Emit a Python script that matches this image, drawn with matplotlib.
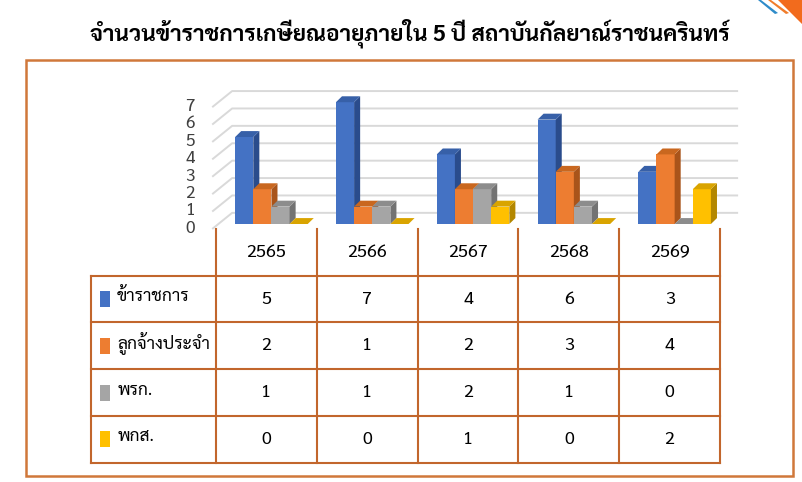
import matplotlib
matplotlib.use("Agg")
import matplotlib.pyplot as plt
from matplotlib.patches import Polygon, Rectangle

# ----------------------------
# Data
# ----------------------------
title = "จำนวนข้าราชการเกษียณอายุภายใน 5 ปี สถาบันกัลยาณ์ราชนครินทร์"
years = ["2565", "2566", "2567", "2568", "2569"]
series_names = ["ข้าราชการ", "ลูกจ้างประจำ", "พรก.", "พกส."]
civil_servants = [5, 7, 4, 6, 3]
permanent_staff = [2, 1, 2, 3, 4]
gov_employees = [1, 1, 2, 1, 0]
univ_employees = [0, 0, 1, 0, 2]
y_ticks = [0, 1, 2, 3, 4, 5, 6, 7]

series_values = [civil_servants, permanent_staff, gov_employees, univ_employees]
front_colors = ["#4472C4", "#ED7D31", "#A5A5A5", "#FFC000"]
top_colors = ["#3760A8", "#C9671F", "#8C8C8C", "#D9A400"]
side_colors = ["#2A4C8C", "#A9541A", "#737373", "#B38700"]
line_color = "#C2662C"

plt.rcParams["font.family"] = ["Sarabun", "DejaVu Sans"]

W, H = 802, 482
fig = plt.figure(figsize=(W / 100, H / 100), dpi=100)


def fig_box(left, top, right, bottom):
    return [left / W, 1 - bottom / H, (right - left) / W, (bottom - top) / H]


# ----------------------------
# Title, frame, corner
# ----------------------------
fig.text(410 / W, 1 - 33 / H, title, ha="center", va="center",
         fontsize=16.3, fontweight="bold")

fig.add_artist(Rectangle((26 / W, 1 - 476 / H), (793 - 26) / W, (476 - 59.5) / H,
                         transform=fig.transFigure, fill=False,
                         ec="#D0783A", lw=1.8))

corner_blue = [(758, 0), (761, 0), (778, 13), (775, 14)]
corner_line = [(768, 0), (771, 0), (789, 13), (786, 14)]
corner_fill = [(778, 0), (802, 0), (802, 24)]
for pts, col in [(corner_blue, "#2E8BC9"), (corner_line, "#F07C2B"),
                 (corner_fill, "#F26B1D")]:
    fig.add_artist(Polygon([(x / W, 1 - y / H) for x, y in pts],
                           transform=fig.transFigure, fc=col, ec="none"))

# ----------------------------
# 3D-looking bar chart
# ----------------------------
col_px = 100.8
unit_px = 17.4
ax = fig.add_axes(fig_box(180, 80, 760, 240))
ax.set_xlim((180 - 216) / col_px, (760 - 216) / col_px)
ax.set_ylim((224 - 240) / unit_px, (224 - 80) / unit_px)
ax.axis("off")

# back wall grid
for v in y_ticks:
    ax.plot([-0.03, 0.16, 5.17], [v - 0.25, v + 0.64, v + 0.64],
            color="#D9D9D9", lw=1.4, zorder=1, clip_on=False)
    ax.text(-0.258, v - 0.25, str(v), ha="center", va="center",
            fontsize=12.5, color="#404040")

bar_w = 0.18
start = 0.19
ddx = 0.06
ddy = 0.34
for i in range(len(years)):
    for j, values in enumerate(series_values):
        v = values[i]
        x0 = i + start + j * bar_w
        if v > 0:
            ax.add_patch(Rectangle((x0, 0), bar_w, v, fc=front_colors[j],
                                   ec="none", zorder=3))
            ax.add_patch(Polygon([(x0 + bar_w, 0), (x0 + bar_w + ddx, ddy),
                                  (x0 + bar_w + ddx, v + ddy), (x0 + bar_w, v)],
                                 fc=side_colors[j], ec="none", zorder=3))
        ax.add_patch(Polygon([(x0, v), (x0 + bar_w, v),
                              (x0 + bar_w + ddx, v + ddy), (x0 + ddx, v + ddy)],
                             fc=top_colors[j], ec="none", zorder=3))

# ----------------------------
# Data table
# ----------------------------
tax = fig.add_axes(fig_box(91, 229, 720, 462.7))
label_w = (216 - 91) / col_px
tax.set_xlim(-label_w, len(years))
tax.set_ylim(len(series_names), -1)
tax.axis("off")

for i in range(len(years) + 1):
    tax.plot([i, i], [-1, len(series_names)], color=line_color, lw=1.5, clip_on=False)
tax.plot([-label_w, -label_w], [0, len(series_names)], color=line_color, lw=1.5, clip_on=False)
for r in range(len(series_names) + 1):
    tax.plot([-label_w, len(years)], [r, r], color=line_color, lw=1.5, clip_on=False)

for i, year in enumerate(years):
    tax.text(i + 0.5, -0.5, year, ha="center", va="center", fontsize=13)

for r, (name, values) in enumerate(zip(series_names, series_values)):
    tax.add_patch(Rectangle((-label_w + 0.09, r + 0.5 - 0.17), 0.1, 0.34,
                            fc=front_colors[r], ec="none"))
    tax.text(-label_w + 0.26, r + 0.45, name, ha="left", va="center", fontsize=12.5)
    for i, v in enumerate(values):
        tax.text(i + 0.5, r + 0.5, str(v), ha="center", va="center", fontsize=13)

fig.savefig("out.png", dpi=100)
